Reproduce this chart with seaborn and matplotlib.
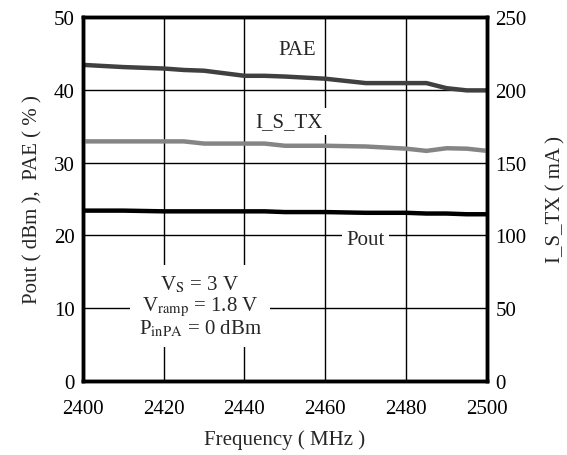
import matplotlib
matplotlib.use("Agg")
import matplotlib.pyplot as plt
import pandas as pd
import seaborn as sns

sns.set_theme(style="white")
plt.rcParams["font.family"] = ["Liberation Serif", "DejaVu Serif"]
plt.rcParams["mathtext.fontset"] = "stix"

# frequency points (MHz)
freq = [2400, 2410, 2420, 2425, 2430, 2440, 2445, 2450, 2460, 2470, 2480, 2485, 2490, 2495, 2500]
# PAE (%)
pae = [43.4, 43.1, 42.9, 42.7, 42.6, 41.9, 41.9, 41.8, 41.5, 40.9, 40.9, 40.9, 40.2, 39.9, 39.9]
# Pout (dBm)
pout = [23.4, 23.4, 23.3, 23.3, 23.3, 23.3, 23.3, 23.2, 23.2, 23.1, 23.1, 23.0, 23.0, 22.9, 22.9]
# I_S_TX (mA)
i_tx = [164.5, 164.5, 164.5, 164.5, 163.0, 163.0, 163.0, 161.5, 161.5, 161.0, 159.5, 158.0, 159.8, 159.5, 158.0]

df = pd.DataFrame({"freq": freq, "pae": pae, "pout": pout, "i_tx": i_tx})

FS = 15

fig, ax = plt.subplots(figsize=(5.67, 4.56), dpi=100)
fig.subplots_adjust(left=0.146, right=0.859, bottom=0.162, top=0.961)
ax2 = ax.twinx()

sns.lineplot(data=df, x="freq", y="pae", color="#404040", linewidth=3.2, ax=ax)
sns.lineplot(data=df, x="freq", y="pout", color="black", linewidth=3.2, ax=ax)
sns.lineplot(data=df, x="freq", y="i_tx", color="#858585", linewidth=3.2, ax=ax2)

ax.set_xlim(2400, 2500)
ax.set_ylim(0, 50)
ax2.set_ylim(0, 250)
ax.set_xticks([2400, 2420, 2440, 2460, 2480, 2500])
ax.set_yticks([0, 10, 20, 30, 40, 50])
ax2.set_yticks([0, 50, 100, 150, 200, 250])

ax.grid(True, color="black", linewidth=1.0)
ax.set_axisbelow(True)
for a in (ax, ax2):
    for s in a.spines.values():
        s.set_color("black")
        s.set_linewidth(2.5)
    a.tick_params(length=0, labelsize=FS, colors="black", pad=6)
ax.tick_params(axis="x", pad=13)

ax.set_xlabel("Frequency ( MHz )", fontsize=FS, labelpad=8)
ax.set_ylabel("Pout ( dBm ),  PAE ( % )", fontsize=FS, labelpad=8)
ax2.set_ylabel("I_S_TX ( mA )", fontsize=FS, labelpad=14)

box = dict(facecolor="white", edgecolor="none", pad=3)
ax.text(2453, 45.5, "PAE", fontsize=FS, ha="center", va="center", bbox=box, zorder=5)
ax.text(2451, 35.6, "I_S_TX", fontsize=FS, ha="center", va="center", bbox=box, zorder=5)
ax.text(2470, 19.5, "Pout", fontsize=FS, ha="center", va="center", bbox=box, zorder=5)
ax.text(2429, 10.3,
        "V$_\\mathrm{S}$ = 3 V\nV$_\\mathrm{ramp}$ = 1.8 V\nP$_\\mathrm{inPA}$ = 0 dBm",
        fontsize=FS, ha="center", va="center", linespacing=1.0,
        bbox=dict(facecolor="white", edgecolor="none", pad=6), zorder=5)

fig.savefig("out.png", dpi=100)
